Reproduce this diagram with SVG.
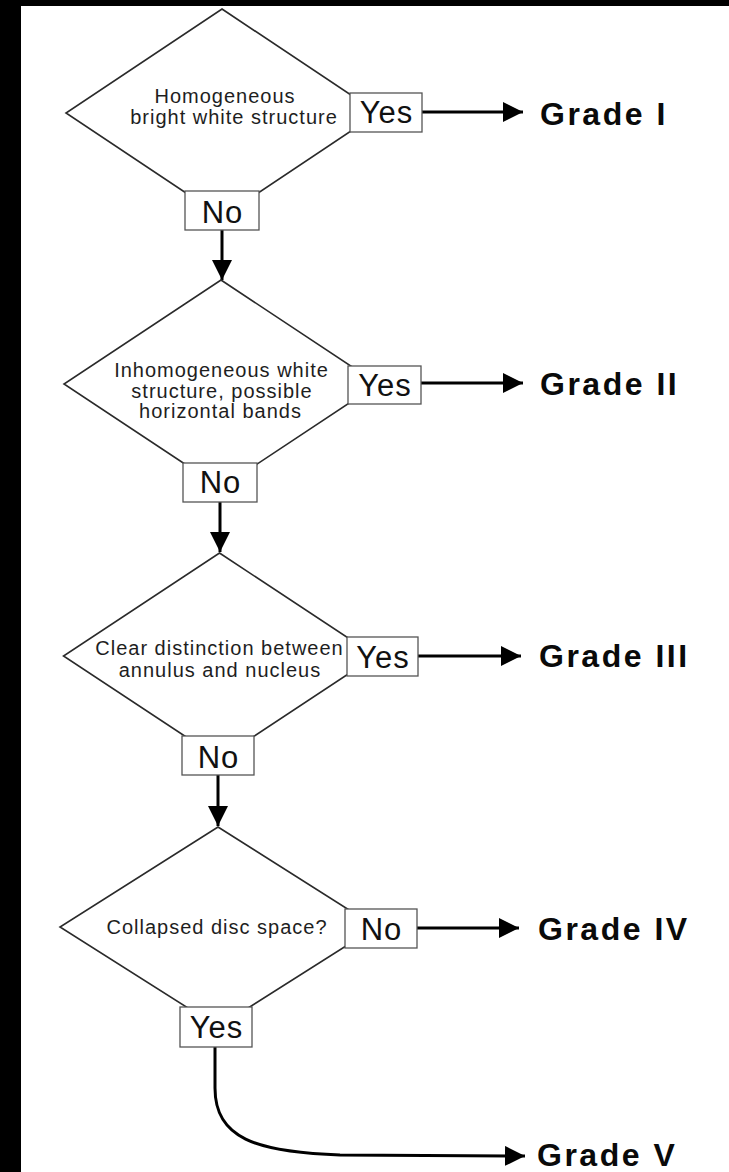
<svg xmlns="http://www.w3.org/2000/svg" width="729" height="1172" viewBox="0 0 729 1172">
  <defs>
    <style>
      .dia { fill: #ffffff; stroke: #2a2a2a; stroke-width: 1.6; stroke-linejoin: miter; }
      .box { fill: #ffffff; stroke: #555555; stroke-width: 1.3; }
      .q { font-family: "Liberation Sans", Arial, sans-serif; font-size: 20px; letter-spacing: 1px; fill: #1e1e1e; text-anchor: middle; }
      .lbl { font-family: "Liberation Sans", Arial, sans-serif; font-size: 31px; letter-spacing: 1px; fill: #111111; text-anchor: middle; }
      .grade { font-family: "Liberation Sans", Arial, sans-serif; font-size: 32px; font-weight: bold; letter-spacing: 2.5px; fill: #0a0a0a; }
      .con { fill: none; stroke: #000000; stroke-width: 3; }
    </style>
    <marker id="ah" viewBox="0 0 20 20" refX="20" refY="10" markerWidth="20" markerHeight="20" markerUnits="userSpaceOnUse" orient="auto">
      <path d="M0,0 L20,10 L0,20 Z" fill="#000000"/>
    </marker>
  </defs>

  <rect x="0" y="0" width="729" height="1172" fill="#ffffff"/>
  <rect x="0" y="0" width="729" height="6" fill="#000000"/>
  <rect x="0" y="0" width="21" height="1172" fill="#000000"/>

  <g id="connectors">
    <line class="con" x1="222" y1="230" x2="222" y2="280" marker-end="url(#ah)"/>
    <line class="con" x1="220" y1="502" x2="220" y2="552" marker-end="url(#ah)"/>
    <line class="con" x1="218" y1="775" x2="218" y2="826" marker-end="url(#ah)"/>
    <line class="con" x1="422" y1="112" x2="523" y2="112" marker-end="url(#ah)"/>
    <line class="con" x1="421" y1="383" x2="523" y2="383" marker-end="url(#ah)"/>
    <line class="con" x1="418" y1="656" x2="521" y2="656" marker-end="url(#ah)"/>
    <line class="con" x1="417" y1="928" x2="519" y2="928" marker-end="url(#ah)"/>
    <path class="con" d="M215,1047 L215,1088 C215,1138 255,1152 340,1155 L525,1156" marker-end="url(#ah)"/>
  </g>

  <g id="decision1">
    <polygon class="dia" points="222,9 378,113 222,217 66,113"/>
    <text class="q" x="225" y="103">Homogeneous</text>
    <text class="q" x="234" y="124">bright white structure</text>
    <rect class="box" x="350" y="93" width="72" height="39"/>
    <text class="lbl" x="386.5" y="123">Yes</text>
    <rect class="box" x="185" y="191" width="74" height="39"/>
    <text class="lbl" x="222.5" y="223">No</text>
  </g>

  <g id="decision2">
    <polygon class="dia" points="221,280 378,384 221,488 64,384"/>
    <text class="q" x="221.5" y="377">Inhomogeneous white</text>
    <text class="q" x="222" y="398">structure, possible</text>
    <text class="q" x="220.5" y="418">horizontal bands</text>
    <rect class="box" x="348" y="366" width="73" height="38"/>
    <text class="lbl" x="385" y="396">Yes</text>
    <rect class="box" x="183" y="463" width="74" height="39"/>
    <text class="lbl" x="220.5" y="493">No</text>
  </g>

  <g id="decision3">
    <polygon class="dia" points="219.5,553 375.5,656 219.5,759 63.5,656"/>
    <text class="q" x="219.5" y="655">Clear distinction between</text>
    <text class="q" x="220" y="677">annulus and nucleus</text>
    <rect class="box" x="347" y="637" width="71" height="39"/>
    <text class="lbl" x="383" y="668">Yes</text>
    <rect class="box" x="182" y="736" width="72" height="39"/>
    <text class="lbl" x="218.5" y="768">No</text>
  </g>

  <g id="decision4">
    <polygon class="dia" points="218,827 376,927 218,1027 60,927"/>
    <text class="q" x="217" y="934">Collapsed disc space?</text>
    <rect class="box" x="345" y="909" width="72" height="39"/>
    <text class="lbl" x="381.5" y="940">No</text>
    <rect class="box" x="180" y="1007" width="72" height="40"/>
    <text class="lbl" x="216.5" y="1038">Yes</text>
  </g>

  <g id="grade1"><text class="grade" x="540" y="125">Grade I</text></g>
  <g id="grade2"><text class="grade" x="540" y="395">Grade II</text></g>
  <g id="grade3"><text class="grade" x="539" y="667">Grade III</text></g>
  <g id="grade4"><text class="grade" x="538" y="940">Grade IV</text></g>
  <g id="grade5"><text class="grade" x="537" y="1166">Grade V</text></g>
</svg>
